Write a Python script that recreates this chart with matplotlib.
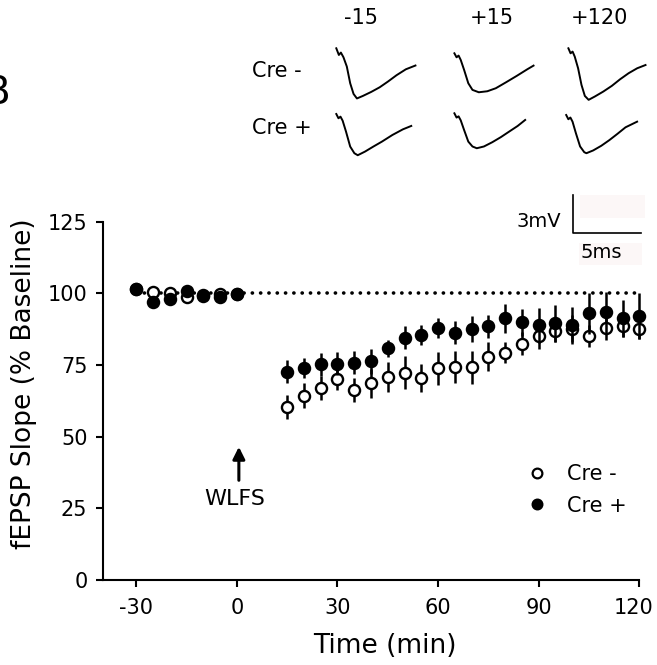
import matplotlib
matplotlib.use("Agg")
import matplotlib.pyplot as plt
from matplotlib.lines import Line2D
from matplotlib.patches import Rectangle
from matplotlib.transforms import ScaledTranslation

plt.rcParams['axes.unicode_minus'] = False

# Summary data (% of baseline)
time_min = [-30, -25, -20, -15, -10, -5, 0,
            15, 20, 25, 30, 35, 40, 45, 50, 55, 60, 65, 70,
            75, 80, 85, 90, 95, 100, 105, 110, 115, 120]
cre_neg_mean = [101.5, 100.3, 100.2, 98.8, 98.9, 99.6, 99.8,
                60.3, 64.3, 66.8, 70.1, 66.4, 68.6, 70.7, 72.3, 70.4, 73.8, 74.3, 74.2,
                77.9, 79.3, 82.3, 85.0, 86.7, 87.6, 85.0, 87.9, 88.7, 87.6]
cre_neg_sem = [1, 1, 1, 1, 1, 1, 1,
               4.3, 4.5, 4.2, 3.8, 4.2, 5.0, 5.3, 5.7, 5.0, 5.7, 5.7, 5.8,
               5.0, 3.8, 4.0, 4.3, 3.7, 4.7, 3.9, 4.1, 4.1, 3.7]
cre_pos_mean = [101.5, 97.0, 97.9, 100.7, 99.4, 98.8, 99.7,
                72.6, 73.8, 75.3, 75.4, 75.8, 76.2, 80.8, 84.5, 85.3, 88.0, 86.2, 87.4,
                88.4, 91.2, 89.8, 88.8, 89.5, 88.8, 93.0, 93.3, 91.2, 92.2]
cre_pos_sem = [1, 2, 1, 1, 1, 1, 1,
               4.0, 3.5, 4.0, 4.0, 4.0, 4.2, 3.0, 4.0, 3.5, 3.5, 4.0, 4.5,
               4.0, 5.0, 4.7, 6.0, 6.5, 6.5, 7.2, 7.2, 6.6, 8.0]

baseline_level = 100
baseline_span = (-30, 120)
x_ticks = [-30, 0, 30, 60, 90, 120]
y_ticks = [0, 25, 50, 75, 100, 125]

# Example fEPSP traces (ms, mV relative to trace start), columns -15 / +15 / +120
trace_times = ["-15", "+15", "+120"]
cre_neg_ms = [
    [0, .19, .34, .53, .78, 1.03, 1.28, 1.53, 1.97, 2.59, 3.22, 3.84, 4.47, 5.16, 5.87],
    [0, .16, .31, .47, .72, 1.03, 1.34, 1.81, 2.44, 3.07, 3.84, 4.62, 5.41, 5.87],
    [0, .16, .31, .47, .72, .97, 1.22, 1.5, 1.97, 2.59, 3.22, 3.84, 4.47, 5.1, 5.72],
]
cre_neg_mv = [
    [0, -.53, -.34, -.71, -1.45, -2.78, -3.63, -3.99, -3.79, -3.47, -3.10, -2.64, -2.14, -1.67, -1.37],
    [0, -.32, -.18, -.53, -1.32, -2.38, -2.91, -3.10, -3.02, -2.78, -2.30, -1.80, -1.27, -.98],
    [0, -.40, -.26, -.66, -1.59, -2.91, -3.79, -4.10, -3.83, -3.44, -2.99, -2.46, -1.98, -1.59, -1.33],
]
cre_pos_ms = [
    [0, .16, .31, .47, .72, 1.03, 1.34, 1.59, 2.13, 2.75, 3.38, 4.16, 4.94, 5.56],
    [0, .16, .31, .47, .72, 1.03, 1.34, 1.66, 2.19, 2.81, 3.44, 4.07, 4.69, 5.25],
    [0, .16, .31, .47, .72, 1.03, 1.34, 1.5, 2.0, 2.6, 3.2, 3.8, 4.4, 5.26],
]
cre_pos_mv = [
    [0, -.34, -.21, -.53, -1.40, -2.59, -3.12, -3.28, -2.99, -2.59, -2.20, -1.67, -1.22, -.95],
    [0, -.34, -.24, -.56, -1.33, -2.25, -2.64, -2.78, -2.64, -2.30, -1.90, -1.45, -1.01, -.53],
    [0, -.34, -.20, -.53, -1.45, -2.50, -2.96, -3.04, -2.82, -2.45, -2.00, -1.50, -.98, -.53],
]
scale_ms = 5
scale_mv = 3

# layout (figure pixels)
W, H = 657, 665
PX_PER_MS = 13.48
PX_PER_MV = 12.57
col_x = [336.3, 454.4, 568.4]
neg_y = [48.3, 53.3, 48.3]
pos_x = [336.3, 454.4, 566.2]
pos_y = [114, 113.3, 115]

fig = plt.figure(figsize=(W / 100, H / 100), dpi=100)

# main time-course axes
ax = fig.add_axes([102.7 / W, 1 - 580 / H, (639.3 - 102.7) / W, (580 - 221.5) / H])
ax.set_xlim(-40, 120)
ax.set_ylim(0, 125)

ax.plot(baseline_span, [baseline_level, baseline_level], color='black', lw=2.6,
        linestyle=(0, (0.05, 2.25)), dash_capstyle='round', zorder=1)

ax.errorbar(time_min, cre_neg_mean, yerr=cre_neg_sem, fmt='o', ms=8,
            mfc='white', mec='black', mew=1.7, ecolor='black', elinewidth=1.8,
            capsize=0, zorder=2, clip_on=False)
ax.errorbar(time_min, cre_pos_mean, yerr=cre_pos_sem, fmt='o', ms=8,
            mfc='black', mec='black', mew=1.7, ecolor='black', elinewidth=1.8,
            capsize=0, zorder=3, clip_on=False)

for s in ['top', 'right']:
    ax.spines[s].set_visible(False)
for s in ['left', 'bottom']:
    ax.spines[s].set_linewidth(1.5)
ax.spines['left'].set_bounds(0, 125)
ax.set_xticks(x_ticks)
ax.set_yticks(y_ticks)
ax.tick_params(direction='out', length=5, width=1.5, labelsize=15, colors='black')
ax.tick_params(axis='x', pad=8)
ax.tick_params(axis='y', pad=6)
last = ax.get_xticklabels()[-1]
last.set_transform(last.get_transform() + ScaledTranslation(-4 / 72, 0, fig.dpi_scale_trans))
ax.set_xlabel('Time (min)', fontsize=19)
ax.xaxis.set_label_coords(0.526, -0.148)
ax.set_ylabel('fEPSP Slope (% Baseline)', fontsize=19)
ax.yaxis.set_label_coords(-0.122, 0.547)

# stimulation marker
ax.annotate('', xy=(0.6, 47.4), xytext=(0.6, 33.8),
            arrowprops=dict(arrowstyle='-|>', color='black', lw=2.2, mutation_scale=18))
ax.text(-0.5, 28.2, 'WLFS', fontsize=16, ha='center', va='center')

handles = [Line2D([], [], ls='none', marker='o', ms=7, mfc='white', mec='black', mew=1.6),
           Line2D([], [], ls='none', marker='o', ms=7, mfc='black', mec='black', mew=1.6)]
ax.legend(handles, ['Cre -', 'Cre +'], loc='center left', bbox_to_anchor=(0.790, 0.251),
          frameon=False, fontsize=15, handlelength=1.0, handletextpad=0.94,
          labelspacing=0.53, borderpad=0, borderaxespad=0)

# overlay in figure pixels for traces and scale bar
ov = fig.add_axes([0, 0, 1, 1], facecolor='none')
ov.set_xlim(0, W)
ov.set_ylim(H, 0)
ov.axis('off')

for i in range(3):
    ov.plot([col_x[i] + t * PX_PER_MS for t in cre_neg_ms[i]],
            [neg_y[i] - v * PX_PER_MV for v in cre_neg_mv[i]], color='black', lw=1.4)
    ov.plot([pos_x[i] + t * PX_PER_MS for t in cre_pos_ms[i]],
            [pos_y[i] - v * PX_PER_MV for v in cre_pos_mv[i]], color='black', lw=1.4)

for x, lab in zip([361, 492, 599], trace_times):
    ov.text(x, 18, lab, fontsize=15, ha='center', va='center')
ov.text(252, 70.7, 'Cre -', fontsize=15, ha='left', va='center')
ov.text(252, 127.5, 'Cre +', fontsize=15, ha='left', va='center')
ov.text(10, 93, 'B', fontsize=28, ha='right', va='center')

# faint boxes around the scale bar
ov.add_patch(Rectangle((580, 195), 65, 23, facecolor='#fcf7f7', edgecolor='none'))
ov.add_patch(Rectangle((578.7, 243), 63.3, 22, facecolor='#fcf7f7', edgecolor='none'))

sx, sy = 573.3, 232.7
ov.plot([sx, sx, sx + scale_ms * PX_PER_MS], [sy - scale_mv * PX_PER_MV, sy, sy],
        color='black', lw=1.2)
ov.text(sx - 12, 221.7, '3mV', fontsize=14, ha='right', va='center')
ov.text(580, 253, '5ms', fontsize=14, ha='left', va='center')

fig.savefig('out.png', dpi=100)
